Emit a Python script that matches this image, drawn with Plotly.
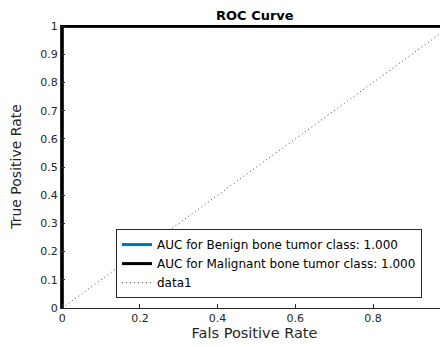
import plotly.graph_objects as go

fpr_benign = [0, 0, 1]
tpr_benign = [0, 1, 1]
fpr_malignant = [0, 0, 1]
tpr_malignant = [0, 1, 1]
diag_x = [0, 1]
diag_y = [0, 1]
names = ["AUC for Benign bone tumor class: 1.000",
         "AUC for Malignant bone tumor class: 1.000",
         "data1"]
x_ticks = [0, 0.2, 0.4, 0.6, 0.8]
x_labels = ["0", "0.2", "0.4", "0.6", "0.8"]
y_ticks = [0, 0.1, 0.2, 0.3, 0.4, 0.5, 0.6, 0.7, 0.8, 0.9, 1]
y_labels = ["0", "0.1", "0.2", "0.3", "0.4", "0.5", "0.6", "0.7", "0.8", "0.9", "1"]

FONT = "DejaVu Sans, Arial, sans-serif"
GRAY = "#262626"

fig = go.Figure()
fig.add_trace(go.Scatter(x=fpr_benign, y=tpr_benign, mode="lines", name=names[0],
                         line=dict(color="#0072BD", width=3)))
fig.add_trace(go.Scatter(x=fpr_malignant, y=tpr_malignant, mode="lines", name=names[1],
                         line=dict(color="black", width=3)))
fig.add_trace(go.Scatter(x=diag_x, y=diag_y, mode="lines", name=names[2],
                         line=dict(color="#444444", width=1, dash="1px,3px")))

# the page body adds an 8px offset; the figure is sized to fill the rest of the window
fig.update_layout(
    width=440, height=339,
    margin=dict(l=53, r=0, t=17, b=39),
    paper_bgcolor="white", plot_bgcolor="white",
    font=dict(family=FONT, color=GRAY, size=11),
    title=dict(text="<b>ROC Curve</b>", x=0.561, xanchor="center", y=0.978, yanchor="middle",
               font=dict(size=13, color="black", family=FONT)),
    showlegend=True,
    legend=dict(x=0.142, y=0.035, xanchor="left", yanchor="bottom",
                bgcolor="white", bordercolor=GRAY, borderwidth=1,
                font=dict(size=12, color="black", family=FONT),
                tracegroupgap=0, itemwidth=30),
)
fig.update_xaxes(range=[-0.003, 0.993], tickvals=x_ticks, ticktext=x_labels,
                 ticks="inside", ticklen=4, tickcolor=GRAY,
                 showline=True, linecolor=GRAY, linewidth=1, mirror=False,
                 showgrid=False, zeroline=False, automargin=False,
                 title=dict(text="Fals Positive Rate", font=dict(size=14.5, color=GRAY), standoff=2),
                 tickfont=dict(size=11, color=GRAY))
fig.update_yaxes(range=[0, 1.004], tickvals=y_ticks, ticktext=y_labels,
                 ticks="inside", ticklen=4, tickcolor=GRAY,
                 showline=True, linecolor=GRAY, linewidth=1, mirror=False,
                 showgrid=False, zeroline=False, automargin=False,
                 title=dict(text="True Positive Rate", font=dict(size=14, color=GRAY), standoff=15),
                 tickfont=dict(size=11, color=GRAY))

fig.write_html("out.html")
